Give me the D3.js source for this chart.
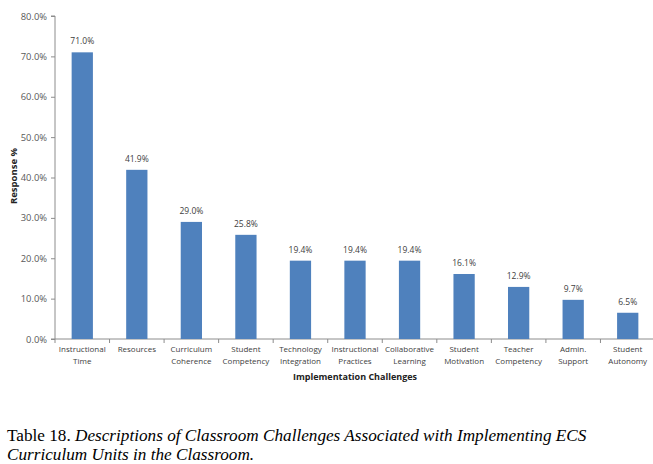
<!DOCTYPE html>
<html>
<head>
<meta charset="utf-8">
<script src="https://cdn.jsdelivr.net/npm/d3@7"></script>
<style>
  body { margin: 0; background: #fff; }
  svg text { font-family: "Open Sans", "DejaVu Sans", sans-serif; }
  .caption { font-family: "Liberation Serif", "Times New Roman", serif; font-size: 17.2px; fill: #000; }
</style>
</head>
<body>
<svg id="chart" width="653" height="464"></svg>
<script>
// chart data
const categories = [
  ["Instructional", "Time"], ["Resources"], ["Curriculum", "Coherence"],
  ["Student", "Competency"], ["Technology", "Integration"], ["Instructional", "Practices"],
  ["Collaborative", "Learning"], ["Student", "Motivation"], ["Teacher", "Competency"],
  ["Admin.", "Support"], ["Student", "Autonomy"]
];
const values = [71.0, 41.9, 29.0, 25.8, 19.4, 19.4, 19.4, 16.1, 12.9, 9.7, 6.5];
const yTicks = [0, 10, 20, 30, 40, 50, 60, 70, 80];

const svg = d3.select("#chart");
const margin = { left: 55, top: 16 };
const plotW = 600; // x from 55 to 655
const plotH = 339 - 16;

const g = svg.append("g").attr("transform", `translate(${margin.left},${margin.top})`);

const x = d3.scaleBand()
  .domain(d3.range(categories.length))
  .range([0, plotW])
  .paddingInner(0.61)
  .paddingOuter(0.305);

const y = d3.scaleLinear().domain([0, 80]).range([plotH, 0]);

// y axis
const yAxis = g.append("g")
  .call(d3.axisLeft(y).tickValues(yTicks).tickSize(4).tickFormat(d => d.toFixed(1) + "%"));
yAxis.select(".domain").attr("stroke", "#8c8c8c").attr("d", `M-4,${plotH}H0V0H-4`);
yAxis.selectAll(".tick line").attr("stroke", "#8c8c8c");
yAxis.selectAll(".tick text").attr("fill", "#595959").style("font-size", "9.4px").attr("x", -8);

// x axis line with boundary ticks
const bounds = d3.range(categories.length + 1).map(i => i * plotW / categories.length);
g.append("line").attr("x1", 0).attr("x2", plotW).attr("y1", plotH).attr("y2", plotH)
  .attr("stroke", "#8c8c8c");
g.selectAll(".xtick").data(bounds).enter().append("line")
  .attr("x1", d => d).attr("x2", d => d)
  .attr("y1", plotH).attr("y2", plotH + 4)
  .attr("stroke", "#8c8c8c");

// bars
g.selectAll(".bar").data(values).enter().append("rect")
  .attr("class", "bar")
  .attr("x", (d, i) => x(i))
  .attr("y", d => y(d))
  .attr("width", x.bandwidth())
  .attr("height", d => plotH - y(d))
  .attr("fill", "#4f81bd");

// value labels
g.selectAll(".val").data(values).enter().append("text")
  .attr("x", (d, i) => x(i) + x.bandwidth() / 2)
  .attr("y", d => y(d) - 8)
  .attr("text-anchor", "middle")
  .attr("fill", "#404040")
  .style("font-size", "8.5px")
  .text(d => d.toFixed(1) + "%");

// category labels
const cat = g.selectAll(".cat").data(categories).enter().append("text")
  .attr("text-anchor", "middle")
  .attr("fill", "#404040")
  .style("font-size", "8px")
  .attr("transform", (d, i) => `translate(${x(i) + x.bandwidth() / 2},${plotH + 13})`);
cat.selectAll("tspan").data(d => d).enter().append("tspan")
  .attr("x", 0)
  .attr("dy", (d, i) => i === 0 ? 0 : 11.5)
  .text(d => d);

// axis titles
svg.append("text")
  .attr("x", 355).attr("y", 380)
  .attr("text-anchor", "middle")
  .attr("fill", "#222")
  .style("font-size", "9px").style("font-weight", "bold")
  .text("Implementation Challenges");

svg.append("text")
  .attr("transform", "translate(17,176) rotate(-90)")
  .attr("text-anchor", "middle")
  .attr("fill", "#222")
  .style("font-size", "9.5px").style("font-weight", "bold")
  .text("Response %");

// caption
const cap = svg.append("text").attr("class", "caption").attr("x", 7).attr("y", 441);
cap.append("tspan").text("Table 18. ");
cap.append("tspan").style("font-style", "italic")
  .text("Descriptions of Classroom Challenges Associated with Implementing ECS");
svg.append("text").attr("class", "caption").attr("x", 7).attr("y", 459.5)
  .style("font-style", "italic")
  .text("Curriculum Units in the Classroom.");
</script>
</body>
</html>
